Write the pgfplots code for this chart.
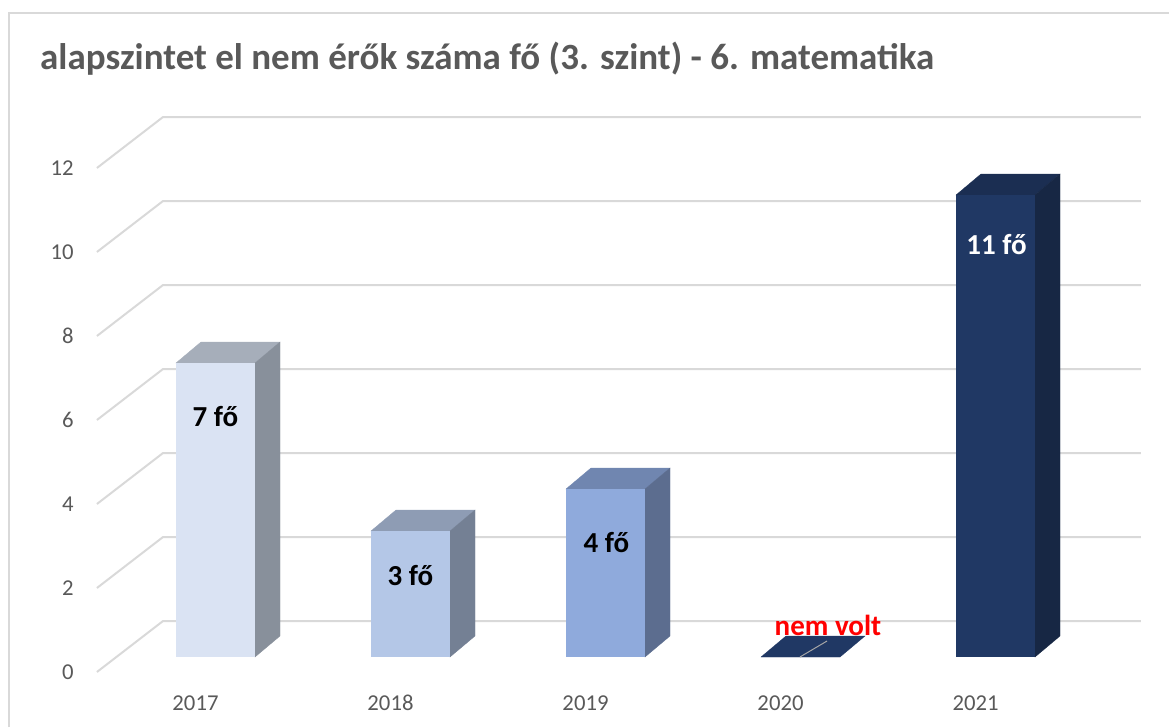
\documentclass[border=0pt]{standalone}
\usepackage{pgfplots}
\pgfplotsset{compat=1.18}
\usepackage{fontspec}
\setmainfont{Carlito}
\definecolor{gridc}{HTML}{D9D9D9}
\definecolor{txt}{HTML}{595959}
\definecolor{fA}{HTML}{DAE3F3}\definecolor{tA}{HTML}{A6AEBA}\definecolor{sA}{HTML}{88909B}
\definecolor{fB}{HTML}{B4C7E7}\definecolor{tB}{HTML}{8E9CB4}\definecolor{sB}{HTML}{748094}
\definecolor{fC}{HTML}{8FAADC}\definecolor{tC}{HTML}{7086B0}\definecolor{sC}{HTML}{5C6D8F}
\definecolor{fD}{HTML}{203864}\definecolor{tD}{HTML}{1B2E52}\definecolor{sD}{HTML}{172744}
\begin{document}
\begin{tikzpicture}
\begin{axis}[
  x=195pt, y=42pt,
  xmin=-0.608, xmax=4.746, ymin=-0.357, ymax=12.857,
  axis lines=left,
  axis line style={draw=none,-},
  major tick length=0pt,
  clip=false,
  no marks,
  xtick={0,1,2,3,4},
  xticklabels={2017,2018,2019,2020,2021},
  ytick={0,2,4,6,8,10,12},
  /pgf/number format/assume math mode=true,
  ticklabel style={font=\fontsize{22.7}{24}\selectfont, text=txt, inner sep=0pt},
  xticklabel style={anchor=base, yshift=-38pt, xshift=-20pt},
  yticklabel style={anchor=east, xshift=-23pt, yshift=-15pt},
  every node near coord/.append style={anchor=center, font=\fontsize{29}{30}\selectfont\bfseries},
]
% gridlines (front end, back corner, back right end)
\addplot[gridc, line width=2pt] coordinates {(-0.608,-0.357)(-0.269,0.857)(4.746,0.857)};
\addplot[gridc, line width=2pt] coordinates {(-0.608,1.643)(-0.269,2.857)(4.746,2.857)};
\addplot[gridc, line width=2pt] coordinates {(-0.608,3.643)(-0.269,4.857)(4.746,4.857)};
\addplot[gridc, line width=2pt] coordinates {(-0.608,5.643)(-0.269,6.857)(4.746,6.857)};
\addplot[gridc, line width=2pt] coordinates {(-0.608,7.643)(-0.269,8.857)(4.746,8.857)};
\addplot[gridc, line width=2pt] coordinates {(-0.608,9.643)(-0.269,10.857)(4.746,10.857)};
\addplot[gridc, line width=2pt] coordinates {(-0.608,11.643)(-0.269,12.857)(4.746,12.857)};
% 2017
\addplot[fill=tA, draw=tA, line width=0.3pt] coordinates {(-0.2026,7)(0.2026,7)(0.3308,7.5)(-0.0744,7.5)} -- cycle;
\addplot[fill=sA, draw=sA, line width=0.3pt] coordinates {(0.2026,0)(0.3308,0.5)(0.3308,7.5)(0.2026,7)} -- cycle;
\addplot[ybar, bar width=79pt, bar shift=0pt, fill=fA, draw=none, point meta=y,
  nodes near coords={\pgfmathprintnumber{\pgfplotspointmeta}~fő},
  every node near coord/.append style={yshift=-54pt, text=black}] coordinates {(0,7)};
% 2018
\addplot[fill=tB, draw=tB, line width=0.3pt] coordinates {(0.7974,3)(1.2026,3)(1.3308,3.5)(0.9256,3.5)} -- cycle;
\addplot[fill=sB, draw=sB, line width=0.3pt] coordinates {(1.2026,0)(1.3308,0.5)(1.3308,3.5)(1.2026,3)} -- cycle;
\addplot[ybar, bar width=79pt, bar shift=0pt, fill=fB, draw=none, point meta=y,
  nodes near coords={\pgfmathprintnumber{\pgfplotspointmeta}~fő},
  every node near coord/.append style={yshift=-45pt, text=black}] coordinates {(1,3)};
% 2019
\addplot[fill=tC, draw=tC, line width=0.3pt] coordinates {(1.7974,4)(2.2026,4)(2.3308,4.5)(1.9256,4.5)} -- cycle;
\addplot[fill=sC, draw=sC, line width=0.3pt] coordinates {(2.2026,0)(2.3308,0.5)(2.3308,4.5)(2.2026,4)} -- cycle;
\addplot[ybar, bar width=79pt, bar shift=0pt, fill=fC, draw=none, point meta=y,
  nodes near coords={\pgfmathprintnumber{\pgfplotspointmeta}~fő},
  every node near coord/.append style={yshift=-54pt, xshift=1pt, text=black}] coordinates {(2,4)};
% 2020 (no data: flat top face)
\addplot[fill=fD, draw=fD, line width=0.3pt] coordinates {(2.7974,0)(3.2026,0)(3.3308,0.5)(2.9256,0.5)} -- cycle;
\addplot[color=gray!70, line width=1pt] coordinates {(2.997,0)(3.136,0.381)};
\node[font=\fontsize{29}{30}\selectfont\bfseries, text=red, inner sep=0pt] at (axis cs:3.141,0.762) {nem volt};
% 2021
\addplot[fill=tD, draw=tD, line width=0.3pt] coordinates {(3.7974,11)(4.2026,11)(4.3308,11.5)(3.9256,11.5)} -- cycle;
\addplot[fill=sD, draw=sD, line width=0.3pt] coordinates {(4.2026,0)(4.3308,0.5)(4.3308,11.5)(4.2026,11)} -- cycle;
\addplot[ybar, bar width=79pt, bar shift=0pt, fill=fD, draw=none, point meta=y,
  nodes near coords={\pgfmathprintnumber{\pgfplotspointmeta}~fő},
  every node near coord/.append style={yshift=-50pt, xshift=1pt, text=white}] coordinates {(4,11)};
% title
\node[anchor=base west, inner sep=0pt, text=txt, font=\fontsize{37}{40}\selectfont\bfseries] at (axis cs:-0.9,13.993) {alapszintet el nem érők száma fő (3. szint) - 6. matematika};
% chart frame
\draw[gridc, line width=2pt] (axis cs:-1.059,-1.667) -- (axis cs:-1.059,15.333) -- (axis cs:4.890,15.333);
\coordinate (bl) at (axis cs:-1.1051,-1.6667);
\coordinate (tr) at (axis cs:4.8897,15.643);
\end{axis}
\pgfresetboundingbox
\path (bl) rectangle (tr);
\end{tikzpicture}
\end{document}
